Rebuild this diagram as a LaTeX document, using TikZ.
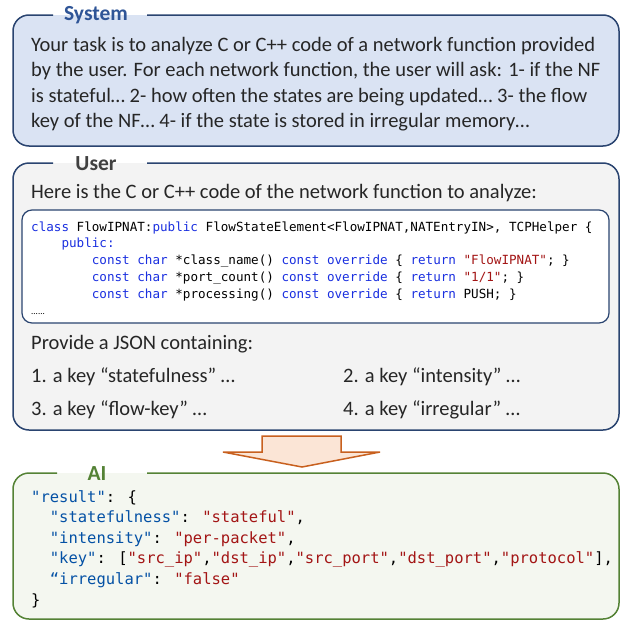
\documentclass[tikz,border=0pt]{standalone}
\usepackage{fontspec}
\setmainfont{Carlito}
\newfontfamily\codefont{DejaVu Sans Mono}
\usetikzlibrary{calc}

\definecolor{ink}{HTML}{262626}
\definecolor{navy}{HTML}{2A4470}
\definecolor{sysfill}{HTML}{DAE3F3}
\definecolor{systitle}{HTML}{2F5597}
\definecolor{userfill}{HTML}{F3F3F3}
\definecolor{usertitle}{HTML}{404040}
\definecolor{aifill}{HTML}{F4F7F0}
\definecolor{aigreen}{HTML}{548235}
\definecolor{arrowfill}{HTML}{FBE5D6}
\definecolor{arrowline}{HTML}{C8601E}
\definecolor{kwblue}{HTML}{1A2FE0}
\definecolor{keyblue}{HTML}{0451A5}
\definecolor{strred}{HTML}{A31515}

\newcommand{\ckw}[1]{\textcolor{kwblue}{#1}}
\newcommand{\cstr}[1]{\textcolor{strred}{#1}}
\newcommand{\jkey}[1]{\textcolor{keyblue}{#1}}
\newcommand{\jval}[1]{\textcolor{strred}{#1}}

\tikzset{
  panel/.style={line width=1.5pt, rounded corners=16pt},
  paneltitle/.style={font=\bfseries\fontsize{21.5}{25}\selectfont, inner sep=0pt, anchor=base},
  body/.style={font=\fontsize{20.5}{25}\selectfont, text=ink, inner sep=0pt, anchor=base west},
  code/.style={font=\codefont\fontsize{12.6}{16}\selectfont, text=black, inner sep=0pt, anchor=base west},
  json/.style={font=\codefont\fontsize{15.5}{20}\selectfont, text=black, inner sep=0pt, anchor=base west},
}

\begin{document}
\begin{tikzpicture}[x=1pt,y=-1pt]
\useasboundingbox (0,0) rectangle (621,621);

% ---------- System panel ----------
\fill[sysfill, rounded corners=16pt] (13,15) rectangle (619,146);
\draw[panel, navy] (53,15) -- (13,15) -- (13,146) -- (619,146) -- (619,15) -- (147,15);
\node[paneltitle, text=systitle] (systemtitle) at (96,20) {System};
\node[body] (sys1) at (31,51.5) {Your task is to analyze C or C++ code of a network function provided};
\node[body] (sys2) at (31,76.9) {by the user. For each network function, the user will ask: 1- if the NF};
\node[body] (sys3) at (31,102.3) {is stateful… 2- how often the states are being updated… 3- the flow};
\node[body] (sys4) at (31,127.7) {key of the NF… 4- if the state is stored in irregular memory…};

% ---------- User panel ----------
\fill[userfill, rounded corners=16pt] (13,163) rectangle (619,430);
\draw[panel, navy] (53,163) -- (13,163) -- (13,430) -- (619,430) -- (619,163) -- (147,163);
\node[paneltitle, text=usertitle] (usertitle) at (96,170) {User};
\node[body] (ask) at (31,198) {Here is the C or C++ code of the network function to analyze:};

% code listing
\draw[fill=white, draw=navy, line width=1.2pt, rounded corners=10pt] (22,210) rectangle (609,323);
\node[code] (c1) at (31,231) {\ckw{class} FlowIPNAT:\ckw{public} FlowStateElement<FlowIPNAT,NATEntryIN>, TCPHelper \{};
\node[code] (c2) at (61.3,247.8) {\ckw{public:}};
\node[code] (c3) at (91.7,264.6) {\ckw{const char} *class\_name() \ckw{const override} \{ \ckw{return} \cstr{"FlowIPNAT"}; \}};
\node[code] (c4) at (91.7,281.4) {\ckw{const char} *port\_count() \ckw{const override} \{ \ckw{return} \cstr{"1/1"}; \}};
\node[code] (c5) at (91.7,298.2) {\ckw{const char} *processing() \ckw{const override} \{ \ckw{return} PUSH; \}};
\node[inner sep=0pt, anchor=base west, font=\fontsize{9}{10}\selectfont] (c6) at (31,314) {......};

\node[body] (provide) at (31,349) {Provide a JSON containing:};
\node[body] (k1) at (31,382) {1. a key “statefulness” …};
\node[body] (k2) at (343,382) {2. a key “intensity” …};
\node[body] (k3) at (31,415) {3. a key “flow-key” …};
\node[body] (k4) at (343,415) {4. a key “irregular” …};

% ---------- block arrow ----------
\draw[fill=arrowfill, draw=arrowline, line width=1.5pt, line join=miter]
  (262,436) -- (341,436) -- (341,452) -- (380,452) -- (302,467) -- (223,452) -- (262,452) -- cycle;

% ---------- AI panel ----------
\fill[aifill, rounded corners=16pt] (13,473) rectangle (619,619);
\draw[panel, aigreen] (57,473) -- (13,473) -- (13,619) -- (619,619) -- (619,473) -- (147,473);
\node[paneltitle, text=aigreen] (aititle) at (97,480) {AI};
\node[json] (j1) at (31,502) {\jkey{"result"}: \{};
\node[json] (j2) at (49.7,522.6) {\jkey{"statefulness"}: \jval{"stateful"},};
\node[json] (j3) at (49.7,543.2) {\jkey{"intensity"}: \jval{"per-packet"},};
\node[json] (j4) at (49.7,563.8) {\jkey{"key"}: [\jval{"src\_ip"},\jval{"dst\_ip"},\jval{"src\_port"},\jval{"dst\_port"},\jval{"protocol"}],};
\node[json] (j5) at (49.7,584.4) {\jkey{“irregular"}: \jval{"false"}};
\node[json] (j6) at (31,605) {\}};
\end{tikzpicture}
\end{document}
